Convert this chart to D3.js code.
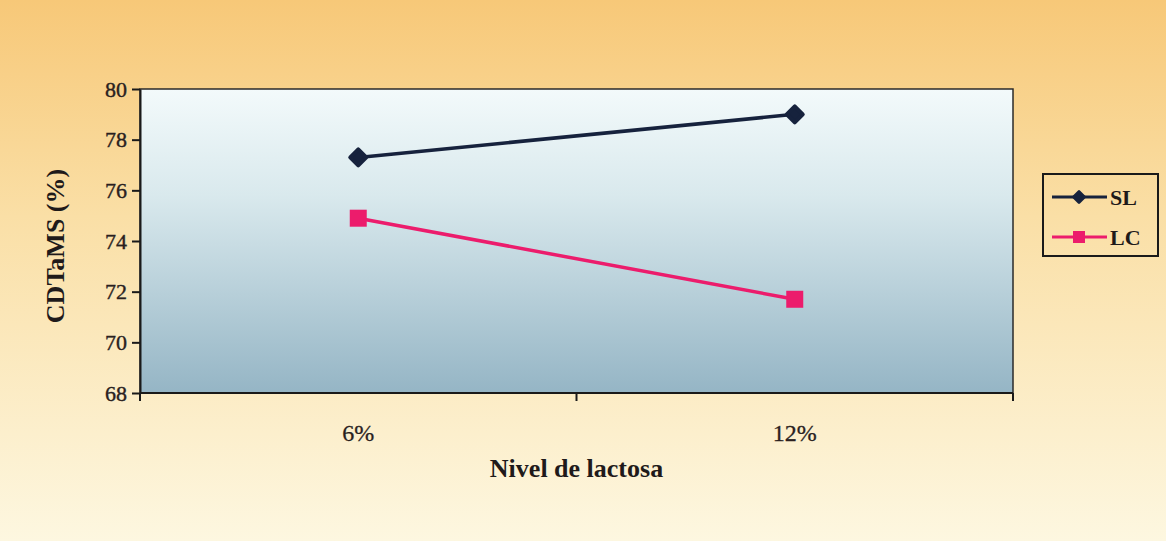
<!DOCTYPE html>
<html>
<head>
<meta charset="utf-8">
<script src="https://cdn.jsdelivr.net/npm/d3@7"></script>
<style>
  html, body { margin: 0; padding: 0; background: #fdf6dc; }
  svg { display: block; }
  text { font-family: 'Liberation Serif', 'Times New Roman', serif; }
</style>
</head>
<body>
<svg id="chart" width="1166" height="541"></svg>
<script>
// Lactose level categories and the two series (CDTaMS, %)
const categories = ["6%", "12%"];
const seriesNames = ["SL", "LC"];
const slValues = [77.3, 79.0];
const lcValues = [74.9, 71.7];
const yTicks = [68, 70, 72, 74, 76, 78, 80];

const series = [
  { name: seriesNames[0], values: slValues, color: "#16223d", shape: "diamond" },
  { name: seriesNames[1], values: lcValues, color: "#ec1c6c", shape: "square" }
];

const W = 1166, H = 541;
const margin = { left: 140, right: 153, top: 89, bottom: 148 };
const pw = W - margin.left - margin.right;
const ph = H - margin.top - margin.bottom;

const svg = d3.select("#chart");
const defs = svg.append("defs");

const bg = defs.append("linearGradient").attr("id", "bgGrad")
  .attr("x1", 0).attr("y1", 0).attr("x2", 0).attr("y2", 1);
bg.append("stop").attr("offset", "0%").attr("stop-color", "#f7c878");
bg.append("stop").attr("offset", "40%").attr("stop-color", "#fadfa6");
bg.append("stop").attr("offset", "100%").attr("stop-color", "#fdf7e0");

const pg = defs.append("linearGradient").attr("id", "plotGrad")
  .attr("x1", 0).attr("y1", 0).attr("x2", 0).attr("y2", 1);
pg.append("stop").attr("offset", "0%").attr("stop-color", "#f3fafb");
pg.append("stop").attr("offset", "35%").attr("stop-color", "#d9e9ed");
pg.append("stop").attr("offset", "100%").attr("stop-color", "#95b5c5");

svg.append("rect").attr("width", W).attr("height", H).attr("fill", "url(#bgGrad)");

const x = d3.scaleBand().domain(categories).range([0, pw]);
const y = d3.scaleLinear().domain([68, 80]).range([ph, 0]);

const g = svg.append("g").attr("transform", `translate(${margin.left},${margin.top})`);

g.append("rect").attr("width", pw).attr("height", ph)
  .attr("fill", "url(#plotGrad)")
  .attr("stroke", "#2a2a2a").attr("stroke-width", 1.5);

const fontFam = "'Liberation Serif', 'Times New Roman', serif";

// Y axis
const yAxis = g.append("g").call(
  d3.axisLeft(y).tickValues(yTicks).tickSize(8).tickSizeOuter(0).tickPadding(5)
);
yAxis.attr("font-family", fontFam).attr("font-size", 22);
yAxis.select(".domain").attr("stroke", "#1a1a1a").attr("stroke-width", 2);
yAxis.selectAll(".tick line").attr("stroke", "#1a1a1a").attr("stroke-width", 2);
yAxis.selectAll(".tick text")
  .attr("font-family", fontFam).attr("font-size", 22).attr("fill", "#2a1f1f")
  .attr("stroke", "#2a1f1f").attr("stroke-width", 0.4);

// X axis: ticks at band boundaries, labels at band centres
const xAxisG = g.append("g").attr("transform", `translate(0,${ph})`);
xAxisG.append("line").attr("x1", 0).attr("x2", pw).attr("y1", 0).attr("y2", 0)
  .attr("stroke", "#1a1a1a").attr("stroke-width", 2);
const bounds = [0, ...categories.map(c => x(c) + x.bandwidth())];
xAxisG.selectAll("line.tk").data(bounds).enter().append("line")
  .attr("class", "tk")
  .attr("x1", d => d).attr("x2", d => d).attr("y1", 0).attr("y2", 8)
  .attr("stroke", "#1a1a1a").attr("stroke-width", 2);
xAxisG.selectAll("text.lab").data(categories).enter().append("text")
  .attr("class", "lab")
  .attr("x", d => x(d) + x.bandwidth() / 2)
  .attr("y", 48)
  .attr("text-anchor", "middle")
  .attr("font-family", fontFam).attr("font-size", 24).attr("fill", "#2a1f1f")
  .attr("stroke", "#2a1f1f").attr("stroke-width", 0.3)
  .text(d => d);

// Axis titles
svg.append("text")
  .attr("x", margin.left + pw / 2).attr("y", 477)
  .attr("text-anchor", "middle")
  .attr("font-family", fontFam).attr("font-size", 26).attr("font-weight", "bold")
  .attr("fill", "#1f1a1a")
  .text("Nivel de lactosa");

svg.append("text")
  .attr("transform", `translate(64,${margin.top + ph / 2 + 5}) rotate(-90)`)
  .attr("text-anchor", "middle")
  .attr("font-family", fontFam).attr("font-size", 26).attr("font-weight", "bold")
  .attr("fill", "#1f1a1a")
  .text("CDTaMS (%)");

// Lines and markers
const line = d3.line()
  .x((d, i) => x(categories[i]) + x.bandwidth() / 2)
  .y(d => y(d));

function drawMarker(sel, shape, color, r) {
  if (shape === "diamond") {
    sel.append("path")
      .attr("d", `M0,${-r}L${r},0L0,${r}L${-r},0Z`)
      .attr("fill", color)
      .attr("stroke", color).attr("stroke-width", r * 0.5)
      .attr("stroke-linejoin", "round");
  } else {
    sel.append("rect")
      .attr("x", -r).attr("y", -r).attr("width", 2 * r).attr("height", 2 * r)
      .attr("fill", color);
  }
}

series.forEach(s => {
  g.append("path").datum(s.values)
    .attr("d", line)
    .attr("fill", "none")
    .attr("stroke", s.color)
    .attr("stroke-width", 3.5);
  s.values.forEach((v, i) => {
    const m = g.append("g")
      .attr("transform", `translate(${x(categories[i]) + x.bandwidth() / 2},${y(v)})`);
    drawMarker(m, s.shape, s.color, s.shape === "diamond" ? 8 : 8.5);
  });
});

// Legend
const lg = svg.append("g").attr("transform", "translate(1043,174)");
lg.append("rect").attr("width", 115).attr("height", 82)
  .attr("fill", "none").attr("stroke", "#1a1a1a").attr("stroke-width", 2);
series.forEach((s, i) => {
  const row = lg.append("g").attr("transform", `translate(0,${23 + i * 40})`);
  row.append("line").attr("x1", 9).attr("x2", 64).attr("y1", 0).attr("y2", 0)
    .attr("stroke", s.color).attr("stroke-width", 3);
  const m = row.append("g").attr("transform", "translate(36,0)");
  drawMarker(m, s.shape, s.color, s.shape === "diamond" ? 5.5 : 6);
  row.append("text").attr("x", 67).attr("y", 8)
    .attr("font-family", fontFam).attr("font-size", 22).attr("font-weight", "bold")
    .attr("fill", "#1f1a1a")
    .text(s.name);
});
</script>
</body>
</html>
